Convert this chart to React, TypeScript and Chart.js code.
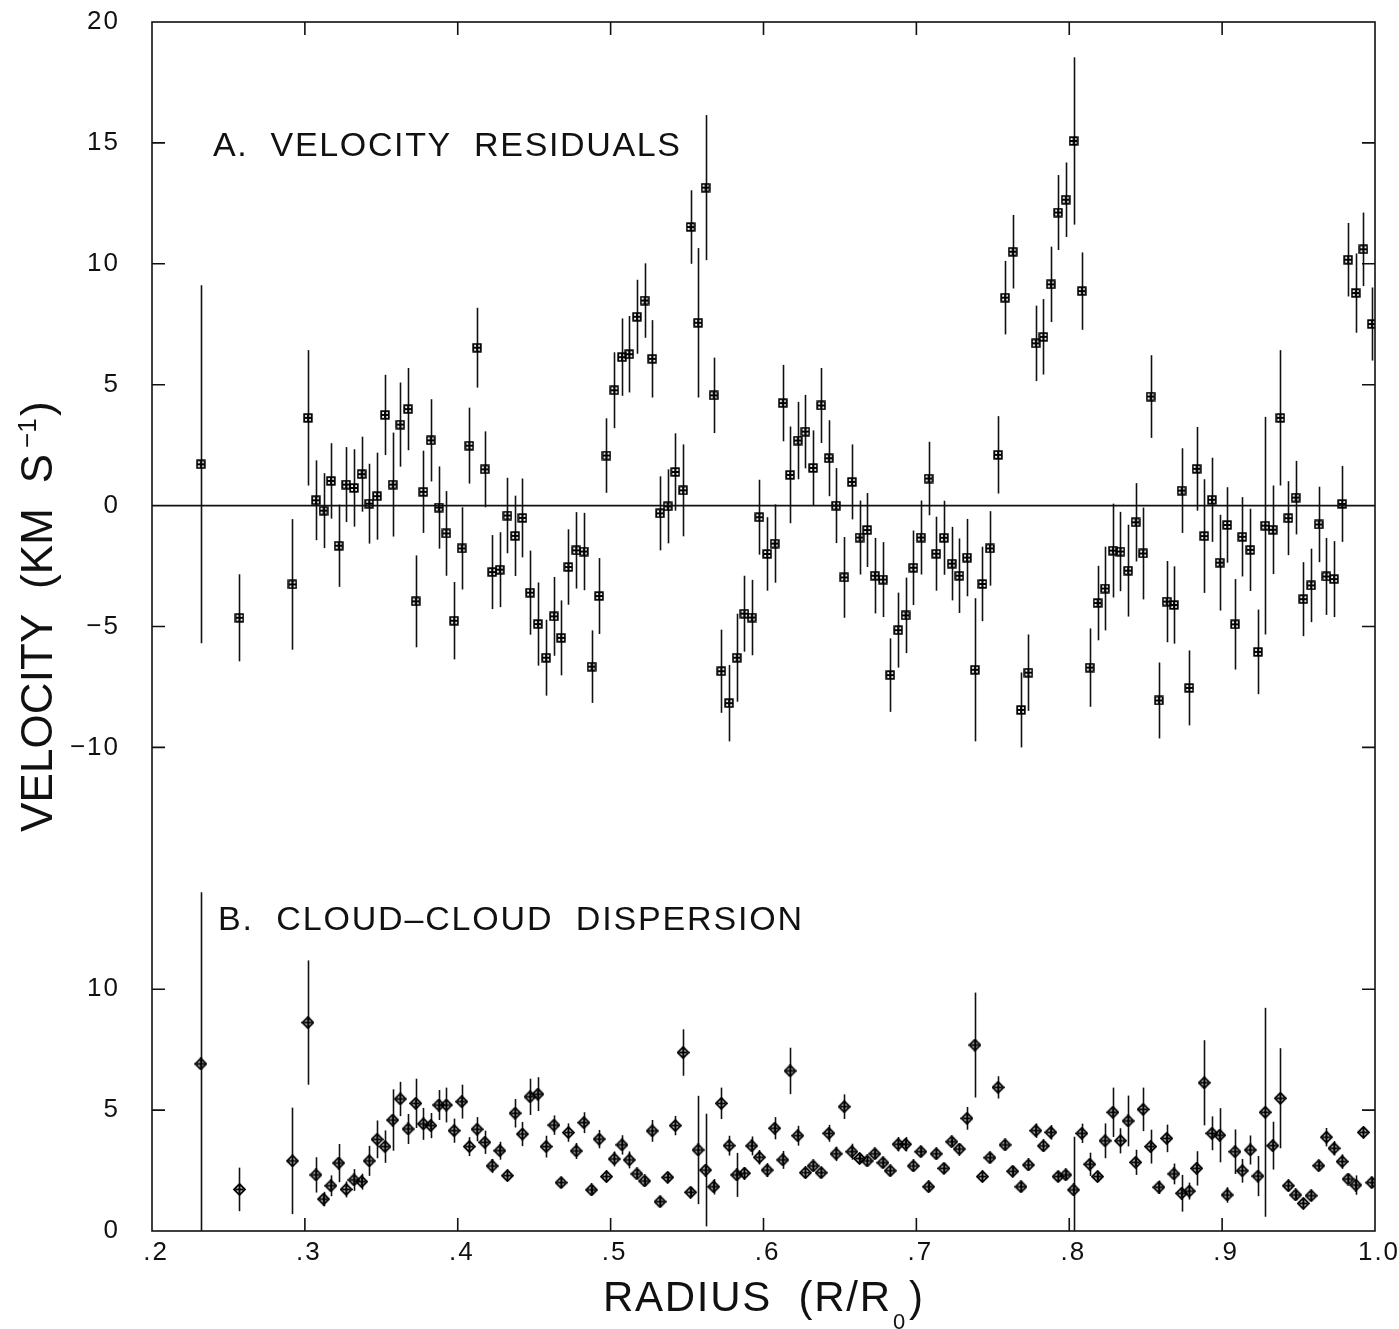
import React, { useEffect, useRef } from 'react';
import { Chart, registerables } from 'chart.js';

Chart.register(...registerables);

// Radius R/R0 of each bin (shared by both panels)
const radius = [
  0.2319, 0.2572, 0.2919, 0.3020, 0.3072, 0.3122, 0.3170, 0.3221, 0.3270, 0.3321, 0.3371, 0.3421,
  0.3472, 0.3524, 0.3574, 0.3624, 0.3675, 0.3725, 0.3775, 0.3823, 0.3876, 0.3925, 0.3976, 0.4026,
  0.4076, 0.4126, 0.4177, 0.4225, 0.4275, 0.4325, 0.4375, 0.4423, 0.4473, 0.4524, 0.4578, 0.4629,
  0.4676, 0.4724, 0.4775, 0.4825, 0.4875, 0.4925, 0.4973, 0.5024, 0.5074, 0.5122, 0.5172, 0.5222,
  0.5272, 0.5323, 0.5373, 0.5423, 0.5474, 0.5523, 0.5572, 0.5621, 0.5674, 0.5724, 0.5775, 0.5825,
  0.5875, 0.5923, 0.5973, 0.6024, 0.6073,
  0.6126, 0.6174, 0.6224, 0.6274, 0.6325, 0.6377, 0.6427, 0.6475, 0.6528, 0.6578, 0.6628, 0.6678,
  0.6728, 0.6781, 0.6829, 0.6881, 0.6929, 0.6980, 0.7029, 0.7080, 0.7130, 0.7180, 0.7231, 0.7281,
  0.7331, 0.7383, 0.7432, 0.7481, 0.7534, 0.7580, 0.7630, 0.7684, 0.7733, 0.7781, 0.7831, 0.7879,
  0.7927, 0.7977, 0.8028, 0.8082,
  0.8134, 0.8185, 0.8234, 0.8285, 0.8335, 0.8385, 0.8434, 0.8483, 0.8532, 0.8586, 0.8637, 0.8684,
  0.8735, 0.8785, 0.8833, 0.8883, 0.8933, 0.8984, 0.9033, 0.9084, 0.9132, 0.9184, 0.9234, 0.9282,
  0.9331, 0.9381, 0.9433, 0.9481, 0.9531, 0.9582, 0.9632, 0.9682, 0.9732, 0.9785, 0.9824, 0.9874,
  0.9924, 0.9979,
];

// Panel A: velocity residuals (km/s) and their errors
const velocity = [
  1.71, -4.64, -3.26, 3.63, 0.22, -0.21, 1.02, -1.66, 0.87, 0.73, 1.30, 0.08,
  0.39, 3.75, 0.87, 3.35, 3.99, -3.96, 0.57, 2.70, -0.08, -1.15, -4.76, -1.77,
  2.48, 6.53, 1.50, -2.75, -2.65, -0.41, -1.25, -0.51, -3.60, -4.90, -6.29, -4.58,
  -5.47, -2.54, -1.85, -1.90, -6.66, -3.74, 2.07, 4.77, 6.14, 6.26, 7.81, 8.48,
  6.07, -0.32, -0.03, 1.39, 0.63, 11.52, 7.56, 13.15, 4.56, -6.85, -8.17, -6.29,
  -4.47, -4.63, -0.48, -2.00, -1.57,
  4.24, 1.27, 2.69, 3.06, 1.56, 4.14, 1.96, 0.00, -2.97, 0.98, -1.32, -1.01,
  -2.90, -3.06, -7.01, -5.15, -4.54, -2.57, -1.32, 1.12, -1.99, -1.33, -2.40, -2.90,
  -2.15, -6.79, -3.24, -1.77, 2.10, 8.60, 10.50, -8.45, -6.91, 6.71, 6.98, 9.15,
  12.12, 12.65, 15.08, 8.87,
  -6.70, -4.03, -3.43, -1.86, -1.90, -2.69, -0.69, -1.98, 4.51, -8.06, -3.97, -4.11,
  0.62, -7.54, 1.52, -1.26, 0.24, -2.36, -0.80, -4.91, -1.29, -1.83, -6.05, -0.83,
  -1.00, 3.63, -0.52, 0.33, -3.87, -3.30, -0.78, -2.93, -3.04, 0.07, 10.17, 8.79,
  10.60, 7.51,
];
const velocityErr = [
  7.4, 1.8, 2.7, 2.8, 1.65, 1.55, 1.56, 1.7, 1.55, 1.6, 1.55, 1.65,
  1.8, 1.66, 2.15, 1.74, 1.7, 1.9, 1.7, 1.7, 1.7, 1.75, 1.6, 1.7,
  1.57, 1.65, 1.57, 1.53, 1.55, 1.56, 1.66, 1.63, 1.74, 1.72, 1.57, 1.63,
  1.55, 1.56, 1.58, 1.6, 1.5, 1.57, 1.54, 1.57, 1.6, 1.58, 1.53, 1.54,
  1.6, 1.53, 1.53, 1.6, 1.9, 1.52, 3.09, 3.0, 1.56, 1.72, 1.58, 1.82,
  1.57, 1.56, 1.55, 1.52, 1.62,
  1.58, 2.0, 1.6, 1.52, 1.55, 1.55, 1.57, 1.55, 1.67, 1.55, 1.53, 1.53,
  1.56, 1.55, 1.52, 1.55, 1.56, 1.54, 1.53, 1.52, 1.53, 1.53, 1.52, 1.54,
  1.6, 2.96, 1.54, 1.54, 1.6, 1.52, 1.52, 1.55, 1.58, 1.56, 1.56, 1.56,
  1.55, 1.54, 3.46, 1.6,
  1.62, 1.54, 1.73, 1.94, 1.64, 1.9, 1.62, 1.9, 1.71, 1.57, 1.68, 1.6,
  1.75, 1.55, 1.73, 2.35, 1.74, 1.98, 1.56, 1.87, 1.64, 1.7, 1.75, 4.5,
  1.83, 2.8, 1.53, 1.52, 1.53, 1.52, 1.56, 1.59, 1.57, 1.57, 1.52, 1.64,
  1.52, 1.51,
];

// Panel B: cloud-cloud dispersion (km/s) and their errors
const dispersion = [
  6.91, 1.72, 2.90, 8.62, 2.32, 1.32, 1.87, 2.81, 1.72, 2.11, 2.04, 2.90,
  3.79, 3.49, 4.59, 5.46, 4.22, 5.28, 4.43, 4.36, 5.21, 5.21, 4.15, 5.35,
  3.49, 4.21, 3.67, 2.69, 3.32, 2.29, 4.87, 4.01, 5.55, 5.66, 3.49, 4.38, 2.00,
  4.07, 3.31, 4.48, 1.70, 3.80, 2.25, 2.98, 3.56, 2.94, 2.36, 2.07, 4.14,
  1.21, 2.22, 4.36, 7.38, 1.60, 3.35, 2.52, 1.83, 5.28, 3.53, 2.32, 2.39,
  3.52, 3.05, 2.52, 4.25, 2.94, 6.62, 3.94, 2.41, 2.69, 2.41, 4.04, 3.19,
  5.14, 3.28, 3.00, 2.90, 3.19, 2.82, 2.49, 3.59, 3.59, 2.69, 3.28, 1.83,
  3.19, 2.59, 3.69, 3.39, 4.66, 7.69,
  2.25, 3.03, 5.94, 3.56, 2.47, 1.83, 2.73, 4.15, 3.52, 4.08, 2.25, 2.32,
  1.70, 4.04, 2.76, 2.25, 3.73, 4.91, 3.73, 4.55, 2.84, 5.03, 3.49, 1.81,
  3.83, 2.36, 1.56, 1.65, 2.59, 6.13, 4.04, 3.96, 1.49, 3.28, 2.49, 3.35,
  2.27, 4.91, 3.53, 5.49, 1.87, 1.49, 1.14, 1.46, 2.70, 3.88, 3.42, 2.87,
  2.15, 1.90, 4.08, 2.00,
];
const dispersionErr = [
  7.1, 0.9, 2.2, 2.57, 0.73, 0.3, 0.43, 0.79, 0.33, 0.45, 0.33, 0.62,
  0.78, 0.67, 1.27, 0.71, 0.62, 1.02, 0.66, 0.52, 0.62, 0.72, 0.5, 0.7,
  0.39, 0.5, 0.48, 0.29, 0.37, 0.2, 0.59, 0.5, 0.75, 0.7, 0.45, 0.4, 0.2,
  0.38, 0.33, 0.43, 0.2, 0.38, 0.2, 0.31, 0.4, 0.35, 0.2, 0.2, 0.45,
  0.2, 0.2, 0.4, 0.96, 0.2, 2.24, 2.33, 0.32, 0.65, 0.41, 0.91, 0.25,
  0.39, 0.3, 0.29, 0.46, 0.37, 0.96, 0.41, 0.2, 0.2, 0.2, 0.35, 0.3,
  0.51, 0.33, 0.2, 0.2, 0.2, 0.2, 0.2, 0.3, 0.3, 0.2, 0.2, 0.2,
  0.2, 0.2, 0.2, 0.2, 0.47, 2.17,
  0.2, 0.2, 0.46, 0.2, 0.2, 0.2, 0.2, 0.3, 0.2, 0.3, 0.2, 0.2,
  2.2, 0.4, 0.48, 0.2, 0.72, 1.02, 0.52, 1.05, 0.52, 0.9, 0.7, 0.28,
  0.57, 0.43, 0.76, 0.35, 0.71, 1.76, 0.7, 1.12, 0.32, 0.92, 0.49, 0.6,
  0.83, 4.32, 0.99, 2.07, 0.2, 0.2, 0.2, 0.2, 0.2, 0.38, 0.3, 0.3,
  0.2, 0.4, 0.2, 0.2,
];

// Axis setup: panel B shares the frame; its zero sits at -30 on the shared axis
const PANEL_B_OFFSET = -30;
const xTicks = [0.3, 0.4, 0.5, 0.6, 0.7, 0.8, 0.9];
const yTickMarks = [15, 10, 5, -5, -10, -20, -25];
const zeroLineX = [0.2, 1.0];

const FONT = 'Liberation Sans, Arial, sans-serif';
const INK = '#000000';

function squareMarker() {
  const c = document.createElement('canvas');
  c.width = 10; c.height = 10;
  const g = c.getContext('2d')!;
  g.strokeStyle = INK; g.lineWidth = 1.8;
  g.strokeRect(1.2, 1.2, 7.6, 7.6);
  g.beginPath();
  g.moveTo(5, 1.2); g.lineTo(5, 8.8);
  g.moveTo(1.2, 5); g.lineTo(8.8, 5);
  g.stroke();
  return c;
}

function diamondMarker() {
  const c = document.createElement('canvas');
  c.width = 13; c.height = 13;
  const g = c.getContext('2d')!;
  g.strokeStyle = INK; g.lineWidth = 1.8;
  g.beginPath();
  g.moveTo(6.5, 1); g.lineTo(12, 6.5); g.lineTo(6.5, 12); g.lineTo(1, 6.5); g.closePath();
  g.stroke();
  g.beginPath();
  g.moveTo(6.5, 2.5); g.lineTo(6.5, 10.5);
  g.moveTo(2.5, 6.5); g.lineTo(10.5, 6.5);
  g.stroke();
  return c;
}

function spaced(ctx: any, text: string, x: number, y: number, width: number) {
  ctx.letterSpacing = '0px';
  const w0 = ctx.measureText(text).width;
  const n = [...text].length;
  const ls = (width - w0) / Math.max(1, n - 1);
  ctx.letterSpacing = ls + 'px';
  ctx.fillText(text, x, y);
  ctx.letterSpacing = '0px';
}

const errorBarPlugin = {
  id: 'errorBars',
  beforeDatasetsDraw(chart: any) {
    const { ctx, chartArea, scales } = chart;
    const xs = scales.x, ys = scales.y;
    ctx.save();
    ctx.beginPath();
    ctx.rect(chartArea.left, chartArea.top, chartArea.right - chartArea.left, chartArea.bottom - chartArea.top);
    ctx.clip();
    ctx.strokeStyle = '#111';
    ctx.lineWidth = 1.6;
    chart.data.datasets.forEach((ds: any) => {
      if (!ds.errors) return;
      ds.data.forEach((p: any, i: number) => {
        const e = ds.errors[i];
        const px = Math.round(xs.getPixelForValue(p.x)) + 0.5;
        ctx.beginPath();
        ctx.moveTo(px, ys.getPixelForValue(p.y - e));
        ctx.lineTo(px, ys.getPixelForValue(p.y + e));
        ctx.stroke();
      });
    });
    ctx.restore();
  },
};

const framePlugin = {
  id: 'frame',
  beforeDraw(chart: any) {
    chart.ctx.letterSpacing = '2px';
  },
  afterDraw(chart: any) {
    const { ctx, chartArea: a, scales } = chart;
    const xs = scales.x, ys = scales.y;
    ctx.save();
    ctx.strokeStyle = '#111';
    ctx.lineWidth = 1.6;
    ctx.strokeRect(a.left, a.top, a.right - a.left, a.bottom - a.top);
    const L = 13;
    ctx.beginPath();
    yTickMarks.forEach((v) => {
      const py = ys.getPixelForValue(v);
      ctx.moveTo(a.left, py); ctx.lineTo(a.left + L, py);
      ctx.moveTo(a.right, py); ctx.lineTo(a.right - L, py);
    });
    xTicks.forEach((v) => {
      const px = xs.getPixelForValue(v);
      ctx.moveTo(px, a.bottom); ctx.lineTo(px, a.bottom - L);
      ctx.moveTo(px, a.top); ctx.lineTo(px, a.top + L);
    });
    ctx.stroke();

    ctx.fillStyle = '#111';
    ctx.textAlign = 'left';
    ctx.textBaseline = 'alphabetic';
    // panel labels
    ctx.font = `34px ${FONT}`;
    spaced(ctx, 'A.  VELOCITY  RESIDUALS', 213, 156, 467);
    spaced(ctx, 'B.  CLOUD\u2013CLOUD  DISPERSION', 218, 930, 584);

    // x title
    ctx.font = `42px ${FONT}`;
    spaced(ctx, 'RADIUS  (R/R', 603, 1311, 287);
    ctx.font = `22px ${FONT}`;
    ctx.fillText('0', 893, 1329);
    ctx.font = `42px ${FONT}`;
    ctx.fillText(')', 909, 1311);

    // y title (rotated)
    ctx.save();
    ctx.translate(52, 612);
    ctx.rotate(-Math.PI / 2);
    ctx.font = `44px ${FONT}`;
    spaced(ctx, 'VELOCITY  (KM  S', -220, 0, 378);
    ctx.font = `26px ${FONT}`;
    ctx.fillText('\u22121', -220 + 384, -16);
    ctx.font = `44px ${FONT}`;
    ctx.fillText(')', -220 + 416, 0);
    ctx.restore();

    ctx.restore();
  },
};

export default function App() {
  const ref = useRef<HTMLCanvasElement | null>(null);

  useEffect(() => {
    if (!ref.current) return;
    const sq = squareMarker();
    const dm = diamondMarker();
    const chart = new Chart(ref.current, {
      type: 'scatter',
      data: {
        datasets: [
          {
            type: 'line',
            data: zeroLineX.map((x) => ({ x, y: 0 })),
            borderColor: '#111',
            borderWidth: 1.6,
            pointRadius: 0,
          } as any,
          {
            data: radius.map((x, i) => ({ x, y: velocity[i] })),
            errors: velocityErr,
            pointStyle: sq,
            pointRadius: 5,
            showLine: false,
          } as any,
          {
            data: radius.map((x, i) => ({ x, y: dispersion[i] + PANEL_B_OFFSET })),
            errors: dispersionErr,
            pointStyle: dm,
            pointRadius: 6,
            showLine: false,
          } as any,
        ],
      },
      options: {
        animation: false,
        responsive: false,
        events: [],
        plugins: { legend: { display: false }, tooltip: { enabled: false } },
        layout: { padding: { top: 22, right: 24, left: 0, bottom: 0 } },
        scales: {
          x: {
            type: 'linear',
            min: 0.2,
            max: 1.0,
            afterFit: (s: any) => {
              s.height = 98;
              s.paddingLeft = 0; s.paddingRight = 0;
            },
            grid: { display: false, drawTicks: false },
            border: { display: false },
            ticks: {
              stepSize: 0.1,
              autoSkip: false,
              maxRotation: 0,
              padding: 6,
              labelOffset: 4,
              color: '#111',
              font: { family: FONT, size: 26 },
              callback: (v: any) => {
                const n = Math.round(Number(v) * 10);
                return n === 10 ? '1.0' : '.' + n;
              },
            },
          },
          y: {
            type: 'linear',
            min: -30,
            max: 20,
            afterFit: (s: any) => {
              s.width = 152;
              s.paddingTop = 0; s.paddingBottom = 0;
            },
            grid: { display: false, drawTicks: false },
            border: { display: false },
            ticks: {
              stepSize: 5,
              autoSkip: false,
              padding: 32,
              color: '#111',
              font: { family: FONT, size: 26 },
              callback: (v: any) => {
                const n = Math.round(Number(v));
                if (n >= -10) return n < 0 ? '\u2212' + Math.abs(n) : String(n);
                if (n === -15) return '';
                return String(n - PANEL_B_OFFSET);
              },
            },
          },
        },
      } as any,
      plugins: [errorBarPlugin, framePlugin],
    });
    return () => chart.destroy();
  }, []);

  return (
    <div style={{ position: 'absolute', left: 0, top: 0, width: 1399, height: 1329, background: '#fff' }}>
      <canvas ref={ref} width={1399} height={1329} style={{ display: 'block' }} />
    </div>
  );
}
